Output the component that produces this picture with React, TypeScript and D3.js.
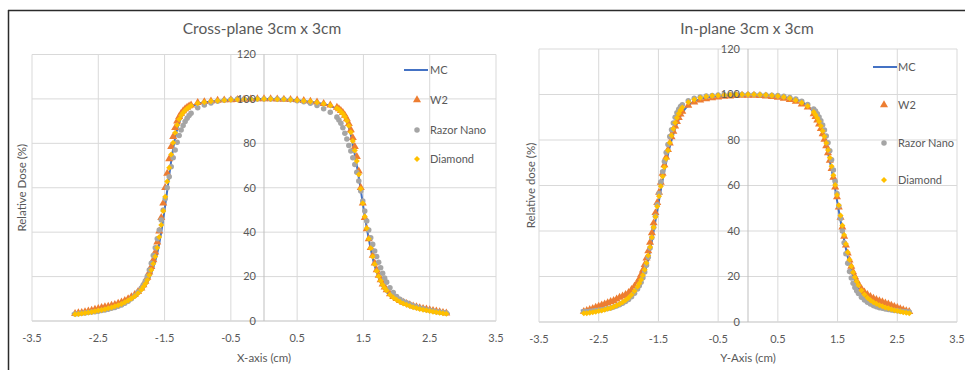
import React from 'react';
import * as d3 from 'd3';

// ---------- shared ticks / legend ----------
const xTicks = [-3.5, -2.5, -1.5, -0.5, 0.5, 1.5, 2.5, 3.5];
const yTicks = [0, 20, 40, 60, 80, 100, 120];
const seriesNames = ['MC', 'W2', 'Razor Nano', 'Diamond'];

// ---------- Cross-plane ----------
const crossMCX = [-2.9, -2.7, -2.5, -2.3, -2.2, -2.1, -2.0, -1.9, -1.8, -1.75, -1.7, -1.65, -1.6, -1.55, -1.5, -1.45, -1.4, -1.35, -1.3, -1.25, -1.2, -1.1, -1.0, -0.8, -0.5, -0.2, 0, 0.2, 0.5, 0.8, 1.0, 1.1, 1.2, 1.25, 1.3, 1.35, 1.4, 1.45, 1.5, 1.55, 1.6, 1.65, 1.7, 1.75, 1.8, 1.9, 2.0, 2.1, 2.2, 2.3, 2.5, 2.7, 2.8];
const crossMCY = [3.3, 3.8, 4.6, 5.8, 6.7, 8.0, 9.6, 12, 15.5, 18, 21.5, 26, 32, 40, 50, 61, 72, 81, 87.5, 91.5, 94, 96.5, 97.8, 98.8, 99.5, 99.9, 100, 99.9, 99.4, 98.3, 96.8, 95.5, 92.5, 89.5, 85, 78, 70, 61, 51, 42, 34, 27, 22, 18, 15, 11.5, 9.2, 7.6, 6.4, 5.5, 4.4, 3.6, 3.4];

const crossX = [
  -2.85, -2.8, -2.75, -2.7, -2.65, -2.6, -2.55, -2.5, -2.45, -2.4, -2.35, -2.3, -2.25, -2.2, -2.15, -2.1, -2.05, -2.0, -1.95, -1.9,
  -1.85, -1.82, -1.79, -1.76, -1.73, -1.7, -1.67, -1.64, -1.61, -1.58, -1.55, -1.52, -1.49, -1.46, -1.43, -1.4, -1.37, -1.34, -1.31, -1.28, -1.25, -1.22, -1.19, -1.16, -1.13, -1.1,
  -1.0, -0.9, -0.8, -0.7, -0.6, -0.5, -0.4, -0.3, -0.2, -0.1, 0, 0.1, 0.2, 0.3, 0.4, 0.5, 0.6, 0.7, 0.8, 0.9, 1.0,
  1.1, 1.13, 1.16, 1.19, 1.22, 1.25, 1.28, 1.31, 1.34, 1.37, 1.4, 1.43, 1.46, 1.49, 1.52, 1.55, 1.58, 1.61, 1.64, 1.67, 1.7, 1.73, 1.76, 1.79, 1.82, 1.85,
  1.9, 1.95, 2.0, 2.05, 2.1, 2.15, 2.2, 2.25, 2.3, 2.35, 2.4, 2.45, 2.5, 2.55, 2.6, 2.65, 2.7, 2.75,
];
const crossW2 = [
  3.3, 3.6, 3.8, 4.1, 4.4, 4.8, 5.2, 5.6, 6.0, 6.3, 6.6, 7.0, 7.4, 7.9, 8.5, 9.2, 10.0, 10.9, 11.9, 13.2,
  14.8, 16.2, 17.8, 19.6, 22, 24.5, 27.5, 31, 35.5, 40.5, 46.5, 53, 60, 66.5, 73, 78.5, 83, 87, 90, 92, 93.5, 94.6, 95.5, 96.2, 96.8, 97.2,
  98.3, 98.7, 99.0, 99.3, 99.5, 99.6, 99.7, 99.8, 99.9, 100, 100, 100, 99.9, 99.8, 99.7, 99.5, 99.2, 98.9, 98.5, 97.9, 97.2,
  96.2, 95.5, 94.7, 93.8, 92.6, 91, 88.8, 86, 82.5, 78.5, 74, 67.5, 60, 53, 46.5, 41.5, 37, 33, 29.5, 26, 23, 20.5, 18.5, 16.6, 15.2, 14,
  12.2, 11, 10, 9.1, 8.4, 7.8, 7.2, 6.7, 6.3, 5.9, 5.6, 5.3, 5.0, 4.7, 4.4, 4.1, 3.8, 3.5,
];
const crossRazor = [
  3.2, 3.3, 3.5, 3.6, 3.8, 4.0, 4.2, 4.4, 4.7, 5.0, 5.3, 5.7, 6.1, 6.6, 7.2, 8.0, 8.9, 10.0, 11.4, 13.0,
  14.8, 16.3, 18, 20.2, 23, 26, 29.5, 33, 37, 41, 45.5, 50, 55, 60, 65, 69.5, 73.5, 77, 80.5, 83.5, 86, 88, 89.8, 91.3, 92.5, 93.5,
  96, 97.3, 98.2, 98.9, 99.4, 99.7, 99.9, 100, 100, 100, 100, 100, 99.9, 99.8, 99.6, 99.2, 98.7, 98.0, 97.0, 95.6, 94.0,
  91.8, 90.5, 89, 87, 84.5, 82, 79, 76.5, 73.5, 70.5, 67, 63, 58.5, 54, 49.5, 45, 41, 37.5, 34.5, 31.5, 29, 26.5, 24, 21.5, 19.3, 17.5,
  15, 12.8, 11, 9.8, 8.9, 8.2, 7.5, 6.9, 6.4, 5.9, 5.5, 5.1, 4.8, 4.5, 4.2, 4.0, 3.8, 3.6,
];
const crossDiamond = [
  3.0, 3.2, 3.4, 3.6, 3.8, 4.1, 4.4, 4.7, 5.0, 5.3, 5.7, 6.1, 6.6, 7.1, 7.7, 8.4, 9.2, 10.1, 11.2, 12.5,
  14.1, 15.4, 16.8, 18.5, 20.6, 23, 25.8, 29, 33, 37.8, 43.2, 49.5, 56, 62.8, 69, 75, 80.3, 84.8, 88.3, 90.8, 92.5, 93.8, 94.9, 95.7, 96.4, 96.9,
  98.1, 98.5, 98.9, 99.2, 99.4, 99.6, 99.7, 99.8, 99.9, 100, 100, 100, 99.9, 99.8, 99.6, 99.4, 99.1, 98.8, 98.4, 97.8, 97.0,
  95.8, 95.1, 94.2, 93.3, 92, 90.2, 87.9, 85, 81, 76.8, 72, 66, 59.5, 53, 47, 41.8, 37, 32.8, 29, 25.5, 22.5, 20.1, 18.1, 16.3, 14.9, 13.7,
  11.8, 10.6, 9.6, 8.7, 7.9, 7.3, 6.7, 6.2, 5.8, 5.4, 5.1, 4.8, 4.5, 4.2, 3.9, 3.7, 3.5, 3.3,
];

// ---------- In-plane ----------
const inMCX = [-2.8, -2.6, -2.4, -2.3, -2.2, -2.1, -2.0, -1.9, -1.8, -1.75, -1.7, -1.65, -1.6, -1.55, -1.5, -1.45, -1.4, -1.35, -1.3, -1.25, -1.2, -1.1, -1.0, -0.9, -0.8, -0.6, -0.4, -0.2, 0, 0.2, 0.4, 0.6, 0.8, 0.9, 1.0, 1.1, 1.2, 1.25, 1.3, 1.35, 1.4, 1.45, 1.5, 1.55, 1.6, 1.65, 1.7, 1.75, 1.8, 1.9, 2.0, 2.1, 2.2, 2.3, 2.4, 2.5, 2.6, 2.7];
const inMCY = [5.0, 5.3, 6.0, 6.7, 7.7, 9.0, 10.8, 13.4, 17.2, 20.2, 24.5, 30, 37, 44.5, 52, 59.5, 66.5, 72.5, 78, 82.5, 86.5, 92, 95.3, 97, 98, 99, 99.6, 99.9, 100, 99.9, 99.5, 98.9, 97.8, 96.8, 95, 92, 87, 83, 78.5, 73, 67, 60, 52, 44.5, 37.5, 31, 25.5, 21, 17.5, 12.8, 10, 8.2, 7.0, 6.3, 5.8, 5.5, 5.3, 5.3];

const inX = [
  -2.75, -2.7, -2.65, -2.6, -2.55, -2.5, -2.45, -2.4, -2.35, -2.3, -2.25, -2.2, -2.15, -2.1, -2.05, -2.0, -1.95, -1.9,
  -1.85, -1.82, -1.79, -1.76, -1.73, -1.7, -1.67, -1.64, -1.61, -1.58, -1.55, -1.52, -1.49, -1.46, -1.43, -1.4, -1.37, -1.34, -1.31, -1.28, -1.25, -1.22, -1.19, -1.16, -1.13, -1.1,
  -1.0, -0.9, -0.8, -0.7, -0.6, -0.5, -0.4, -0.3, -0.2, -0.1, 0, 0.1, 0.2, 0.3, 0.4, 0.5, 0.6, 0.7, 0.8, 0.9, 1.0,
  1.1, 1.13, 1.16, 1.19, 1.22, 1.25, 1.28, 1.31, 1.34, 1.37, 1.4, 1.43, 1.46, 1.49, 1.52, 1.55, 1.58, 1.61, 1.64, 1.67, 1.7, 1.73, 1.76, 1.79, 1.82, 1.85,
  1.9, 1.95, 2.0, 2.05, 2.1, 2.15, 2.2, 2.25, 2.3, 2.35, 2.4, 2.45, 2.5, 2.55, 2.6, 2.65, 2.7,
];
const inW2 = [
  4.6, 5.0, 5.4, 5.9, 6.4, 6.9, 7.4, 7.9, 8.4, 8.9, 9.4, 10.0, 10.8, 11.4, 12.0, 12.9, 14.2, 15.8,
  17.5, 19, 20.8, 22.8, 25.2, 28, 31.2, 35, 39.2, 43.5, 48, 52.5, 57, 61.3, 65.3, 69, 72.5, 75.7, 78.6, 81.3, 83.8, 86.1, 88.1, 89.8, 91.3, 92.6,
  95.2, 96.6, 97.5, 98.1, 98.5, 98.8, 99.1, 99.3, 99.5, 99.6, 99.6, 99.6, 99.5, 99.3, 99.0, 98.7, 98.3, 97.7, 96.9, 95.8, 94.4,
  91.5, 90.2, 88.7, 87, 85, 82.7, 80.2, 77.4, 74.3, 71, 67.4, 63.5, 59.3, 55, 50.5, 46, 41.7, 37.6, 33.8, 30.3, 27.2, 24.4, 22, 19.9, 18.1, 16.6,
  14.6, 13.1, 12, 11.1, 10.4, 9.8, 9.3, 8.8, 8.3, 7.8, 7.3, 6.8, 6.3, 5.8, 5.3, 4.9, 4.5,
];
const inRazor = [
  4.5, 4.6, 4.7, 4.8, 5.0, 5.2, 5.4, 5.6, 5.9, 6.2, 6.6, 7.0, 7.6, 8.2, 9.0, 9.9, 11.1, 12.6,
  14.5, 15.9, 17.5, 19.5, 22, 25, 28.5, 32.5, 37, 41.5, 46.5, 51.5, 56.5, 61.5, 66, 70.5, 74.5, 78, 81.5, 84.5, 87.5, 90, 92, 93.5, 94.7, 95.5,
  97.3, 98.3, 98.9, 99.3, 99.6, 99.8, 99.9, 100, 100, 100, 100, 100, 99.9, 99.8, 99.7, 99.5, 99.2, 98.7, 98, 97, 95.6,
  93.6, 92.7, 91.5, 90.1, 88.5, 86.6, 84.4, 81.8, 78.8, 75.3, 71.3, 66.8, 61.8, 56.5, 51, 45.5, 40, 34.8, 30, 25.8, 22.2, 19.3, 17, 15.2, 13.7, 12.5,
  10.9, 9.7, 8.7, 7.9, 7.2, 6.7, 6.3, 6.0, 5.7, 5.5, 5.3, 5.1, 4.9, 4.7, 4.6, 4.5, 4.4,
];
const inDiamond = [
  3.8, 3.9, 4.1, 4.3, 4.5, 4.8, 5.1, 5.4, 5.8, 6.2, 6.7, 7.2, 7.9, 8.7, 9.6, 10.7, 12.0, 13.6,
  15.5, 16.9, 18.6, 20.6, 23, 25.9, 29.2, 33, 37.2, 41.7, 46.3, 50.8, 55.3, 59.7, 64, 68, 71.8, 75.4, 78.8, 82, 85, 87.6, 89.8, 91.6, 93.1, 94.3,
  96.6, 97.8, 98.6, 99.1, 99.4, 99.6, 99.8, 99.9, 100, 100, 100, 100, 99.9, 99.8, 99.6, 99.3, 98.9, 98.3, 97.5, 96.4, 95.0,
  92.3, 91.1, 89.7, 88.1, 86.2, 84, 81.5, 78.7, 75.6, 72.2, 68.5, 64.5, 60.2, 55.8, 51.3, 46.8, 42.4, 38.2, 34.3, 30.7, 27.4, 24.5, 21.9, 19.7, 17.8, 16.2,
  13.9, 12.1, 10.7, 9.6, 8.7, 8.0, 7.4, 6.9, 6.4, 6.0, 5.6, 5.2, 4.9, 4.6, 4.3, 4.1, 3.9,
];

const COLORS = { mc: '#4472C4', w2: '#ED7D31', razor: '#A5A5A5', diamond: '#FFC000' };
const TEXT = '#595959';
const FONT = "Lato, 'Open Sans', sans-serif";

const pairs = (xs: number[], ys: number[]) =>
  xs.map((x, i) => [x, ys[i]] as [number, number]).filter((d) => d[1] != null);

const triPath = d3.symbol(d3.symbolTriangle, 28)()!;
const circPath = d3.symbol(d3.symbolCircle, 24)()!;
const diaPath = d3.symbol(d3.symbolSquare, 18)()!;

function Marker({ kind, x, y }: { kind: string; x: number; y: number }) {
  if (kind === 'w2') return <path d={triPath} transform={`translate(${x},${y})`} fill={COLORS.w2} />;
  if (kind === 'razor') return <path d={circPath} transform={`translate(${x},${y})`} fill={COLORS.razor} />;
  return <path d={diaPath} transform={`translate(${x},${y}) rotate(45)`} fill={COLORS.diamond} />;
}

type PanelProps = {
  left: number; right: number; top: number; bottom: number;
  title: string; titleX: number;
  xLabel: string; yLabel: string; yLabelX: number;
  legLine: [number, number]; legMarkX: number; legTextX: number; legYs: number[];
  mcX: number[]; mcY: number[]; detX: number[]; w2: number[]; razor: number[]; diamond: number[];
};

function Panel(p: PanelProps) {
  const x = d3.scaleLinear().domain([-3.5, 3.5]).range([p.left, p.right]);
  const y = d3.scaleLinear().domain([0, 120]).range([p.bottom, p.top]);
  const line = d3.line<[number, number]>().x((d) => x(d[0])).y((d) => y(d[1])).curve(d3.curveMonotoneX);
  const mc = pairs(p.mcX, p.mcY);
  const sets: [string, [number, number][]][] = [
    ['w2', pairs(p.detX, p.w2)],
    ['razor', pairs(p.detX, p.razor)],
    ['diamond', pairs(p.detX, p.diamond)],
  ];
  const x0 = x(0);
  return (
    <g fontFamily={FONT}>
      {yTicks.map((t) => (
        <line key={'gy' + t} x1={p.left} x2={p.right} y1={y(t)} y2={y(t)} stroke={t === 0 ? '#bfbfbf' : '#d9d9d9'} strokeWidth={1} />
      ))}
      {xTicks.map((t) => (
        <line key={'gx' + t} x1={x(t)} x2={x(t)} y1={p.top} y2={p.bottom} stroke="#d9d9d9" strokeWidth={1} />
      ))}
      <line x1={x0} x2={x0} y1={p.top} y2={p.bottom} stroke="#bfbfbf" strokeWidth={1} />
      <path d={line(mc)!} fill="none" stroke={COLORS.mc} strokeWidth={2} />
      {sets.map(([k, pts]) => (
        <g key={k}>
          {pts.map((d, i) => (
            <Marker key={i} kind={k} x={x(d[0])} y={y(d[1])} />
          ))}
        </g>
      ))}
      {yTicks.map((t) => (
        <text key={'ty' + t} x={x0 - 8} y={y(t)} dy="0.35em" textAnchor="end" fontSize={11} fill={TEXT}>{t}</text>
      ))}
      {xTicks.map((t) => (
        <text key={'tx' + t} x={x(t)} y={p.bottom + 21} textAnchor="middle" fontSize={11} fill={TEXT}>{t}</text>
      ))}
      <text x={p.titleX} y={34} textAnchor="middle" fontSize={15.5} fill={TEXT}>{p.title}</text>
      <text x={x0} y={362} textAnchor="middle" fontSize={11.5} fill={TEXT}>{p.xLabel}</text>
      <text transform={`translate(${p.yLabelX},${(p.top + p.bottom) / 2}) rotate(-90)`} textAnchor="middle" fontSize={11.5} fill={TEXT}>{p.yLabel}</text>
      <line x1={p.legLine[0]} x2={p.legLine[1]} y1={p.legYs[0]} y2={p.legYs[0]} stroke={COLORS.mc} strokeWidth={2} />
      <Marker kind="w2" x={p.legMarkX} y={p.legYs[1]} />
      <Marker kind="razor" x={p.legMarkX} y={p.legYs[2]} />
      <Marker kind="diamond" x={p.legMarkX} y={p.legYs[3]} />
      {seriesNames.map((n, i) => (
        <text key={n} x={p.legTextX} y={p.legYs[i]} dy="0.35em" fontSize={11} fill={TEXT}>{n}</text>
      ))}
    </g>
  );
}

export default function App() {
  return (
    <svg width={965} height={370} style={{ position: 'absolute', left: 0, top: 0, background: '#fff' }}>
      <rect x={0} y={0} width={965} height={370} fill="#fff" />
      <line x1={8} x2={965} y1={10.5} y2={10.5} stroke="#2b2b2b" strokeWidth={1.5} />
      <line x1={8.5} x2={8.5} y1={10} y2={370} stroke="#2b2b2b" strokeWidth={1.5} />
      <Panel
        left={32} right={496} top={54.5} bottom={321}
        title="Cross-plane 3cm x 3cm" titleX={262}
        xLabel="X-axis (cm)" yLabel="Relative Dose (%)" yLabelX={26}
        legLine={[404, 428]} legMarkX={417} legTextX={430} legYs={[70, 100, 130, 159]}
        mcX={crossMCX} mcY={crossMCY} detX={crossX} w2={crossW2} razor={crossRazor} diamond={crossDiamond}
      />
      <Panel
        left={539} right={957} top={49} bottom={322}
        title="In-plane 3cm x 3cm" titleX={747}
        xLabel="Y-Axis (cm)" yLabel="Relative dose (%)" yLabelX={535}
        legLine={[873, 897]} legMarkX={884} legTextX={898} legYs={[67, 105, 143, 180]}
        mcX={inMCX} mcY={inMCY} detX={inX} w2={inW2} razor={inRazor} diamond={inDiamond}
      />
    </svg>
  );
}
